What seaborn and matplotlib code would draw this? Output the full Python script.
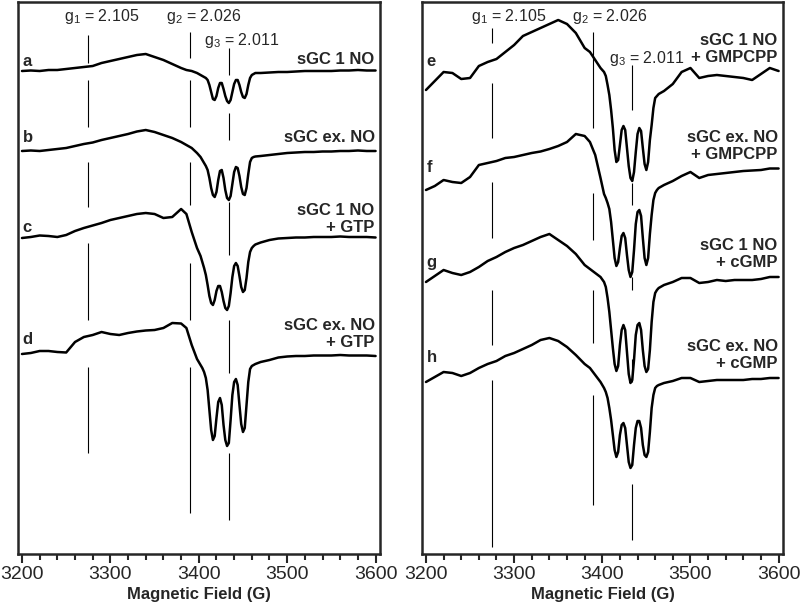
import numpy as np
import seaborn as sns
import matplotlib.pyplot as plt
import matplotlib.font_manager as fm
from matplotlib.ticker import MultipleLocator

# ---------- data (arbitrary intensity units) ----------
field = [3200, 3210, 3220, 3230, 3240, 3250, 3260, 3270, 3280, 3290,
         3300, 3310, 3320, 3330, 3340, 3350, 3360, 3370, 3380, 3386,
         3392, 3398,
         3402, 3404, 3406, 3408, 3410, 3412, 3414, 3416, 3418, 3420,
         3422, 3424, 3426, 3428, 3430, 3432, 3434, 3436, 3438, 3440,
         3442, 3444, 3446, 3448, 3450, 3452, 3454, 3456, 3458, 3460,
         3462, 3464,
         3470, 3480, 3490, 3500, 3510, 3520, 3530, 3540, 3550, 3560,
         3570, 3580, 3590, 3600]

# left panel
sgc_1no = [0, 0.5, 0, 1, 1, 2, 3, 4, 5, 8, 10, 12, 14, 16, 17, 14, 11, 7, 3, 1, 0, -2,
           -4, -5, -6, -7, -9, -14, -21, -28, -29, -25, -17, -12, -12, -18, -25, -30,
           -32, -29, -21, -13, -9, -9, -14, -21, -26, -27, -23, -14, -7, -4, -3, -2,
           -2, -1.5, -1, -1, -0.5, 0, 0, 0, 0, 0.5, 0.5, 1, 0.5, 0.5]
sgc_exno = [0, 0.5, 0, 1, 2, 3, 5, 7, 8.5, 11, 13, 15, 17, 19.5, 21, 19, 16, 13, 9, 6, 3, -2,
            -6, -9, -12, -15, -19, -27, -37, -44, -46, -41, -29, -20, -19, -27, -39, -47,
            -49, -45, -33, -21, -16, -17, -25, -36, -43, -44, -37, -23, -11, -7, -6, -5.5,
            -5, -4, -3, -2, -1.5, -1, -1, -0.5, -0.5, 0, 0, 0.5, 0, 0]
sgc_1no_gtp = [0, 1, 2.5, 2, 1, 3, 7, 10, 12.5, 15, 18, 20, 22, 24, 25, 24, 20, 21, 29, 24, 6, -10,
               -18, -24, -30, -37, -47, -58, -65, -67, -62, -53, -48, -48, -54, -63, -70, -72,
               -68, -55, -39, -28, -25, -28, -38, -49, -54, -52, -40, -24, -14, -10, -8, -6.5,
               -4.5, -2, -0.5, 0, 0.5, 0.5, 1, 1, 1, 1.5, 1, 1, 1, 0.5]
sgc_exno_gtp = [0, 1, 3, 3, 2, 1.5, 12, 17, 19, 22, 20, 19, 21, 22.5, 23.5, 24, 26, 31, 30.5, 26, 9, -5,
                -11, -14, -18, -24, -36, -56, -76, -86, -82, -64, -48, -44, -51, -71, -86, -92,
                -89, -66, -41, -28, -25, -31, -51, -70, -78, -74, -51, -28, -15, -12, -11, -10,
                -8, -6, -3.5, -2.5, -2, -2, -1.5, -1.5, -1.5, -1, -1.5, -1.5, -1.5, -2]

# right panel
sgc_1no_gmpcpp = [0, 9, 18, 17, 11, 12, 24, 28, 31, 38, 45, 54, 58, 62, 66, 70, 66, 57, 42, 38, 30, 22,
                  18, 14, 5, -5, -20, -38, -60, -72, -70, -55, -40, -36, -40, -58, -76, -88,
                  -91, -82, -62, -44, -38, -41, -58, -74, -80, -72, -50, -35, -18, -8, -6, -4,
                  -1, 6, 18, 22, 12, 14, 15, 14, 13, 12, 10, 16, 22, 19]
sgc_exno_gmpcpp = [0, 4, 10, 8, 7, 13, 25, 27, 29, 32, 33, 35, 37, 38.5, 41, 44, 48, 56, 54, 48, 35, 12,
                   -4, -8, -13, -19, -32, -50, -68, -76, -72, -58, -46, -43, -48, -65, -80, -87,
                   -82, -60, -34, -22, -20, -26, -48, -68, -75, -68, -44, -25, -10, -3, 0, 2,
                   5, 9, 14, 18, 12, 15, 16, 17, 18, 19, 19.5, 20, 21.5, 21.5]
sgc_1no_cgmp = [0, 6, 12, 9, 7, 10, 15, 21, 25, 30, 34, 37, 41, 45, 48, 42, 36, 28, 17, 13, 9, 5,
                0, -5, -16, -30, -48, -66, -82, -89, -84, -63, -48, -43, -48, -70, -92, -101,
                -98, -78, -53, -43, -41, -48, -68, -84, -90, -87, -68, -40, -20, -11, -8, -6,
                -3, 0, 4, 4, -1, 0, 2, 1, 2, 2, 2, 3, 5, 5]
sgc_exno_cgmp = [0, 5, 10, 9, 6, 9, 14, 18, 21, 26, 29, 33, 37, 42, 44, 41, 35, 27, 18, 14, 7, 0,
                 -6, -10, -16, -26, -38, -53, -68, -75, -70, -53, -43, -41, -46, -63, -80, -86,
                 -83, -63, -46, -39, -39, -46, -63, -73, -75, -70, -50, -26, -13, -6, -4, -3,
                 -1, 1, 4, 4, 0, 1, 2, 2, 2, 2, 3, 3, 4, 4]

letters_left = ["a", "b", "c", "d"]
letters_right = ["e", "f", "g", "h"]
names_left = ["sGC 1 NO", "sGC ex. NO", "sGC 1 NO\n+ GTP", "sGC ex. NO\n+ GTP"]
names_right = ["sGC 1 NO\n+ GMPCPP", "sGC ex. NO\n+ GMPCPP",
               "sGC 1 NO\n+ cGMP", "sGC ex. NO\n+ cGMP"]

g_labels = ["g$_\\mathregular{1}$ = 2.105", "g$_\\mathregular{2}$ = 2.026",
            "g$_\\mathregular{3}$ = 2.011"]
g_fields = [3275, 3390, 3434]

# ---------- layout ----------
offsets_left = [483, 403, 316, 200]
offsets_right = [464, 364, 272, 172]
letter_y_left = [492, 416, 326, 214]
letter_y_right = [492, 386, 292, 197]
name_y_left = [494, 417, 335, 220]
name_y_right = [505, 408, 300, 199]

# vertical g-marker segments (lo, hi) in axis height units
gseg_left = [
    [(101, 187), (234, 311), (347, 392), (427, 474), (491, 519)],
    [(41, 187), (234, 291), (349, 392), (427, 474), (496, 522)],
    [(34, 101), (181, 234), (299, 352), (414, 441), (479, 506)],
]
gseg_right = [
    [(7, 174), (209, 264), (316, 372), (416, 471), (511, 526)],
    [(49, 159), (211, 264), (314, 361), (426, 522)],
    [(14, 70), (172, 195), (264, 277), (349, 371), (444, 489)],
]

# ---------- style ----------
sns.set_style("ticks")
names = {f.name for f in fm.fontManager.ttflist}
narrow = "Liberation Sans Narrow" if "Liberation Sans Narrow" in names else "Liberation Sans"
plt.rcParams["font.family"] = ["Liberation Sans", "DejaVu Sans"]
plt.rcParams["mathtext.fontset"] = "custom"
plt.rcParams["mathtext.rm"] = "Liberation Sans"

fig = plt.figure(figsize=(8, 6.05), dpi=100)
ax_l = fig.add_axes([18 / 800, 51 / 605, 362 / 800, 552 / 605])
ax_r = fig.add_axes([422 / 800, 51 / 605, 361 / 800, 552 / 605])

panels = [
    (ax_l, [sgc_1no, sgc_exno, sgc_1no_gtp, sgc_exno_gtp], offsets_left,
     letters_left, letter_y_left, names_left, name_y_left, gseg_left,
     [(3290, 537), (3406, 537), (3449, 514)]),
    (ax_r, [sgc_1no_gmpcpp, sgc_exno_gmpcpp, sgc_1no_cgmp, sgc_exno_cgmp], offsets_right,
     letters_right, letter_y_right, names_right, name_y_right, gseg_right,
     [(3294, 538), (3408, 538), (3450, 496)]),
]

fld = np.array(field)
for ax, specs, offs, lets, let_y, labs, lab_y, gseg, gpos in panels:
    for spec, off in zip(specs, offs):
        sns.lineplot(x=fld, y=np.array(spec) + off, ax=ax, color="black",
                     linewidth=1.8, sort=False, estimator=None)
    for gf, segs in zip(g_fields, gseg):
        for lo, hi in segs:
            ax.vlines(gf, lo, hi, color="black", linewidth=0.8)
    for lab, (gx, gy) in zip(g_labels, gpos):
        ax.text(gx, gy, lab, ha="center", va="center", fontsize=11.5)
    for let, ly in zip(lets, let_y):
        ax.text(3201, ly, let, ha="left", va="center", fontsize=12, fontweight="bold")
    for lab, ly in zip(labs, lab_y):
        ax.text(3599, ly, lab, ha="right", va="center", fontsize=12,
                fontweight="bold", multialignment="right", linespacing=1.1)

    ax.set_xlim(3195.5, 3605)
    ax.set_ylim(0, 552)
    ax.set_yticks([])
    ax.set_ylabel("")
    ax.xaxis.set_major_locator(MultipleLocator(100))
    ax.xaxis.set_minor_locator(MultipleLocator(20))
    ax.tick_params(axis="x", which="major", direction="out", length=6.5, width=1.5,
                   pad=2, labelsize=14)
    ax.tick_params(axis="x", which="minor", direction="out", length=4.3, width=1.5)
    for lbl in ax.get_xticklabels():
        lbl.set_family(narrow)
    ax.set_xlabel("Magnetic Field (G)", fontsize=12, fontweight="bold",
                  family=narrow, labelpad=3)
    for sp in ax.spines.values():
        sp.set_visible(True)
        sp.set_linewidth(1.8)

fig.savefig("out.png", dpi=100)
